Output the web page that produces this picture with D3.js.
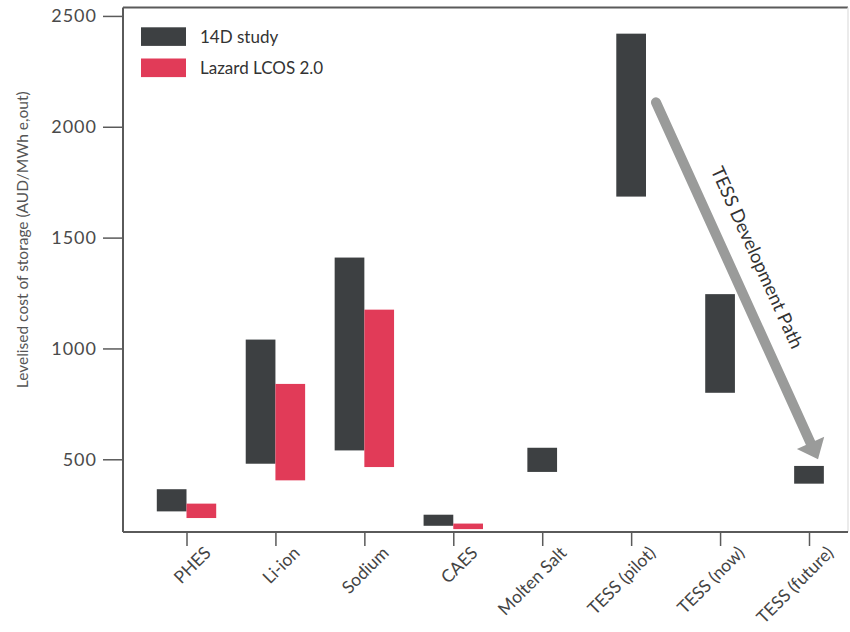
<!DOCTYPE html>
<html>
<head>
<meta charset="utf-8">
<script src="https://cdn.jsdelivr.net/npm/d3@7/dist/d3.min.js"></script>
<style>
  html, body { margin: 0; padding: 0; background: #ffffff; }
  svg { display: block; }
  text { font-family: Lato, "Open Sans", sans-serif; }
</style>
</head>
<body>
<svg id="chart" width="850" height="632"></svg>
<script>
// ---- data ----
const categories = ["PHES", "Li-ion", "Sodium", "CAES", "Molten Salt", "TESS (pilot)", "TESS (now)", "TESS (future)"];
const seriesNames = ["14D study", "Lazard LCOS 2.0"];
// [low, high] ranges, null = no value
const study14DLow  = [265, 480, 540, 200, 443, 1685, 800, 390];
const study14DHigh = [365, 1040, 1410, 250, 552, 2420, 1245, 470];
const lazardLow    = [235, 405, 465, 185, null, null, null, null];
const lazardHigh   = [300, 840, 1175, 210, null, null, null, null];
const yTicks = [500, 1000, 1500, 2000, 2500];
const yLabel = "Levelised cost of storage (AUD/MWh e,out)";
const arrowLabel = "TESS Development Path";
const arrowFrom = ["TESS (pilot)", 2110];
const arrowTo = ["TESS (future)", 500];

const colors = ["#3d4042", "#e13b58"];

// ---- layout ----
const svg = d3.select("#chart");
const plot = { left: 123, right: 848, top: 7.5, bottom: 532 };

const x = d3.scalePoint().domain(categories).range([186.5, 809]);
const y = d3.scaleLinear().domain([172, 2538]).range([plot.bottom, plot.top]);
const barW = x.step() * 0.334;

// frame
svg.append("line").attr("x1", plot.left).attr("x2", plot.right).attr("y1", plot.top).attr("y2", plot.top)
  .attr("stroke", "#5a5a5a").attr("stroke-width", 2);
svg.append("line").attr("x1", plot.right).attr("x2", plot.right).attr("y1", plot.top).attr("y2", plot.bottom)
  .attr("stroke", "#e4e4e4").attr("stroke-width", 1.5);

// bars
const rows = categories.map((c, i) => ({
  c,
  a: [study14DLow[i], study14DHigh[i]],
  b: lazardLow[i] == null ? null : [lazardLow[i], lazardHigh[i]]
}));

const g = svg.append("g");
rows.forEach(r => {
  const cx = x(r.c);
  if (r.b) {
    g.append("rect").attr("x", cx - barW).attr("width", barW)
      .attr("y", y(r.a[1])).attr("height", y(r.a[0]) - y(r.a[1])).attr("fill", colors[0]);
    g.append("rect").attr("x", cx).attr("width", barW)
      .attr("y", y(r.b[1])).attr("height", y(r.b[0]) - y(r.b[1])).attr("fill", colors[1]);
  } else {
    g.append("rect").attr("x", cx - barW / 2).attr("width", barW)
      .attr("y", y(r.a[1])).attr("height", y(r.a[0]) - y(r.a[1])).attr("fill", colors[0]);
  }
});

// y axis
const yAxis = svg.append("g").attr("transform", `translate(${plot.left},0)`)
  .call(d3.axisLeft(y).tickValues(yTicks).tickSize(20).tickPadding(6).tickFormat(d3.format("d")));
yAxis.select(".domain").attr("stroke", "#5a5a5a").attr("stroke-width", 2)
  .attr("d", `M0,${plot.top}V${plot.bottom}`);
yAxis.selectAll(".tick line").attr("stroke", "#5a5a5a").attr("stroke-width", 1.5);
yAxis.selectAll(".tick text").attr("fill", "#4a4a4a").style("font-size", "18px")
  .style("font-family", "Lato, sans-serif").style("letter-spacing", "1px");

// x axis
const xAxis = svg.append("g").attr("transform", `translate(0,${plot.bottom})`)
  .call(d3.axisBottom(x).tickSize(14).tickPadding(0));
xAxis.select(".domain").attr("stroke", "#5a5a5a").attr("stroke-width", 2)
  .attr("d", `M${plot.left},0H${plot.right}`);
xAxis.selectAll(".tick line").attr("stroke", "#5a5a5a").attr("stroke-width", 1.5);
xAxis.selectAll(".tick text")
  .attr("y", 0).attr("dy", 0)
  .attr("text-anchor", "end")
  .attr("transform", "translate(25,22) rotate(-45)")
  .attr("fill", "#444").style("font-size", "17.5px");

// y label
svg.append("text")
  .attr("transform", `translate(28,${(plot.top + plot.bottom) / 2 - 30}) rotate(-90)`)
  .attr("text-anchor", "middle")
  .attr("fill", "#555").style("font-size", "15.5px")
  .text(yLabel);

// legend
const legend = svg.append("g");
seriesNames.forEach((s, i) => {
  legend.append("rect").attr("x", 141).attr("y", 27.3 + i * 31.2).attr("width", 45).attr("height", 18.6)
    .attr("fill", colors[i]);
  legend.append("text").attr("x", 200).attr("y", 36.5 + i * 31.2).attr("dy", "0.36em")
    .attr("fill", "#333").style("font-size", "17px").text(s);
});

// arrow annotation
const x0 = x(arrowFrom[0]) + barW / 2 + 10, y0 = y(arrowFrom[1]);
const x1 = x(arrowTo[0]) + 9, y1 = y(arrowTo[1]);
const ang = Math.atan2(y1 - y0, x1 - x0);
const len = Math.hypot(x1 - x0, y1 - y0);
const headL = 18, headW = 15;
const ag = svg.append("g").attr("transform", `translate(${x0},${y0}) rotate(${ang * 180 / Math.PI})`);
ag.append("line").attr("x1", 0).attr("y1", 0).attr("x2", len - headL + 1).attr("y2", 0)
  .attr("stroke", "#9a9b9a").attr("stroke-width", 10).attr("stroke-linecap", "round");
ag.append("path").attr("d", `M${len},0L${len - headL},${-headW}L${len - headL},${headW}Z`).attr("fill", "#9a9b9a");
ag.append("text").attr("x", len * 0.467).attr("y", -28).attr("dy", "0.35em")
  .attr("text-anchor", "middle").attr("fill", "#333").style("font-size", "18.5px")
  .text(arrowLabel);
</script>
</body>
</html>
